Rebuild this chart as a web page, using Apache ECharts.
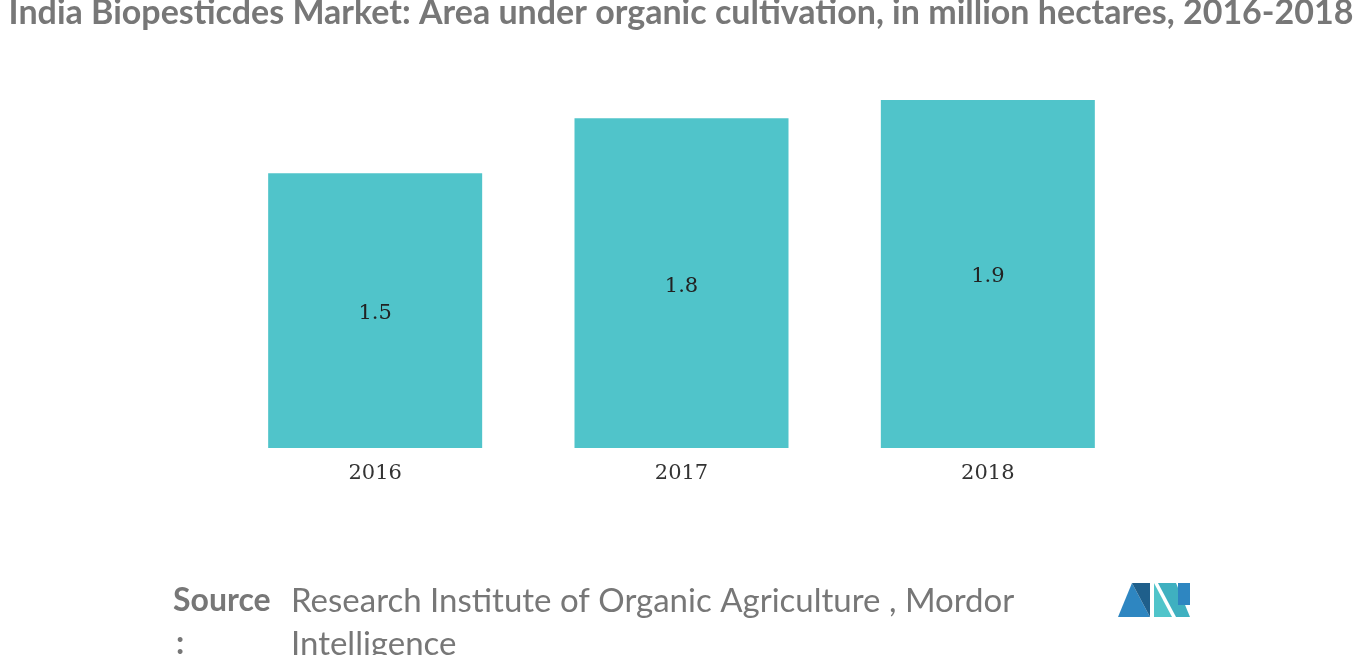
<!DOCTYPE html>
<html>
<head>
<meta charset="utf-8">
<script src="https://cdn.jsdelivr.net/npm/echarts@6/dist/echarts.min.js"></script>
<style>
  html, body { margin: 0; padding: 0; background: #fff; }
  #chart { width: 1366px; height: 655px; }
</style>
</head>
<body>
<div id="chart"></div>
<script>
// data
var years = ['2016', '2017', '2018'];
var areas = [1.5, 1.8, 1.9];

var chart = echarts.init(document.getElementById('chart'));
var option = {
    animation: false,
    title: {
        text: 'India Biopesticdes Market: Area under organic cultivation, in million hectares, 2016-2018',
        left: 676,
        textAlign: 'center',
        top: -9,
        textStyle: { color: '#777', fontSize: 34, fontWeight: 'bold', fontFamily: 'Lato' }
    },
    grid: { left: 222, right: 225, top: 100, bottom: 207 },
    xAxis: {
        type: 'category',
        data: years,
        axisLine: { show: false },
        axisTick: { show: false },
        axisLabel: { color: '#333', fontSize: 21, margin: 15, fontFamily: 'DejaVu Serif' }
    },
    yAxis: { type: 'value', min: 0, max: 1.9, show: false },
    series: [{
        type: 'bar',
        data: areas,
        barWidth: 214,
        itemStyle: { color: '#50C4CA' },
        label: {
            show: true,
            position: 'inside',
            offset: [0, 3],
            color: '#222',
            fontSize: 21,
            fontFamily: 'DejaVu Serif'
        }
    }],
    graphic: [
        { type: 'text', left: 173, top: 585, style: { text: 'Source', fontSize: 32, fontWeight: 'bold', fill: '#777', fontFamily: 'Lato' } },
        { type: 'text', left: 176, top: 628, style: { text: ':', fontSize: 32, fontWeight: 'bold', fill: '#777', fontFamily: 'Lato' } },
        { type: 'text', left: 291, top: 585, style: { text: 'Research Institute of Organic Agriculture , Mordor', fontSize: 33, fill: '#777', fontFamily: 'Lato' } },
        { type: 'text', left: 291, top: 628, style: { text: 'Intelligence', fontSize: 33, fill: '#777', fontFamily: 'Lato' } },
        { type: 'polygon', shape: { points: [[1118, 617], [1132, 583], [1150, 617]] }, style: { fill: '#2E86C1' } },
        { type: 'polygon', shape: { points: [[1132, 583], [1150, 583], [1150, 617]] }, style: { fill: '#1F5F8B' } },
        { type: 'polygon', shape: { points: [[1154, 583], [1172, 617], [1154, 617]] }, style: { fill: '#50C4CA' } },
        { type: 'polygon', shape: { points: [[1158, 583], [1176, 583], [1190, 617], [1176, 617]] }, style: { fill: '#3FB0C0' } },
        { type: 'rect', shape: { x: 1178, y: 583, width: 12, height: 22 }, style: { fill: '#2E86C1' } }
    ]
};
chart.setOption(option);
</script>
</body>
</html>
